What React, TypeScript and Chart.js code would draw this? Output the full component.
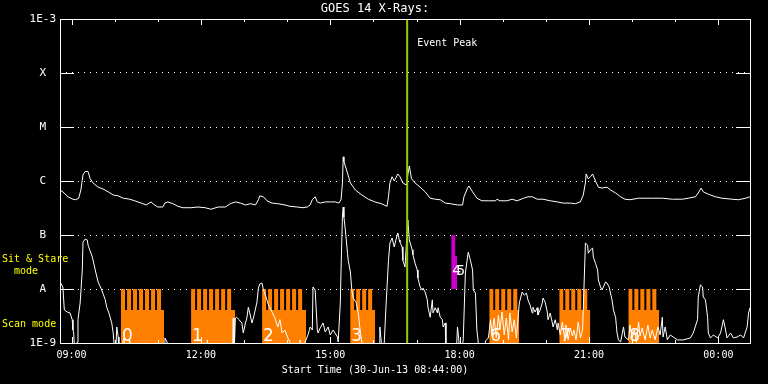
import React, { useEffect, useRef } from 'react';
import { Chart, registerables } from 'chart.js';

Chart.register(...registerables);

const MONO = '"DejaVu Sans Mono", monospace';

// x values: minutes after the start time 30-Jun-13 08:44:00
const xMin = 0;
const xMax = 960;
const xMajorTicks = [16, 196, 376, 556, 736, 916];
const xMajorLabels = ['09:00', '12:00', '15:00', '18:00', '21:00', '00:00'];
const xMinorTicks = [16, 76, 136, 196, 256, 316, 376, 436, 496, 556, 616, 676, 736, 796, 856, 916];

const yTickValues = [1e-9, 1e-8, 1e-7, 1e-6, 1e-5, 1e-4, 1e-3];
const yTickLabels = ['1E-9', 'A', 'B', 'C', 'M', 'X', '1E-3'];

// GOES 14, 1-8 A channel (W/m^2)
const longTimes = [
  0, 4, 11, 18, 22, 26, 29, 32, 35, 39,
  42, 46, 53, 60, 67, 74, 81, 88, 97, 104,
  113, 120, 124, 127, 129, 136, 143, 146, 150, 157,
  164, 171, 182, 192, 202, 210, 220, 230, 237, 244,
  251, 258, 265, 272, 276, 278, 283, 288, 295, 303,
  313, 320, 330, 338, 344, 348, 351, 355, 358, 362,
  369, 376, 383, 388, 391, 393, 394, 395, 400, 404,
  411, 420, 429, 438, 447, 455, 457, 459, 462, 465,
  470, 473, 477, 482, 484, 486, 489, 494, 501, 508,
  515, 522, 529, 536, 543, 553, 560, 562, 567, 569,
  574, 580, 587, 596, 606, 608, 612, 622, 629, 636,
  645, 651, 657, 664, 672, 682, 692, 700, 710, 717,
  724, 728, 731, 732, 735, 738, 741, 745, 749, 754,
  761, 766, 773, 780, 786, 793, 805, 824, 838, 852,
  866, 874, 884, 888, 892, 895, 902, 912, 921, 935,
  944, 954, 960,
];
const longFlux = [
  6.8e-7, 6.3e-7, 5.1e-7, 4.6e-7, 4.5e-7, 4.8e-7, 6.8e-7, 1.3e-6, 1.5e-6, 1.5e-6,
  1.1e-6, 9.2e-7, 7.7e-7, 7.1e-7, 6.3e-7, 5.5e-7, 5.3e-7, 4.8e-7, 4.6e-7, 4.3e-7,
  3.9e-7, 3.6e-7, 3.9e-7, 4.1e-7, 3.8e-7, 3.3e-7, 3.3e-7, 3.9e-7, 4.1e-7, 3.8e-7,
  3.4e-7, 3.2e-7, 3.2e-7, 3.3e-7, 3.2e-7, 3.0e-7, 3.3e-7, 3.3e-7, 3.8e-7, 4.1e-7,
  3.9e-7, 3.6e-7, 3.8e-7, 3.6e-7, 4.5e-7, 5.3e-7, 5.1e-7, 4.3e-7, 3.9e-7, 3.8e-7,
  3.6e-7, 3.4e-7, 3.3e-7, 3.2e-7, 3.3e-7, 3.6e-7, 4.5e-7, 5.1e-7, 4.1e-7, 3.9e-7,
  4.1e-7, 4.1e-7, 4.1e-7, 3.9e-7, 4.5e-7, 9.2e-7, 2.8e-6, 2.3e-6, 1.4e-6, 9.2e-7,
  6.8e-7, 5.5e-7, 4.6e-7, 4.1e-7, 3.8e-7, 3.4e-7, 5.1e-7, 9.2e-7, 1.2e-6, 1.0e-6,
  1.35e-6, 1.2e-6, 9.2e-7, 8.4e-7, 1.3e-6, 1.9e-6, 1.1e-6, 9.2e-7, 7.7e-7, 6.3e-7,
  4.8e-7, 4.6e-7, 4.5e-7, 3.9e-7, 3.8e-7, 3.6e-7, 3.6e-7, 5.1e-7, 7.4e-7, 8.1e-7,
  6.3e-7, 4.8e-7, 4.3e-7, 4.3e-7, 4.3e-7, 4.6e-7, 4.3e-7, 4.3e-7, 4.6e-7, 4.3e-7,
  4.8e-7, 5.1e-7, 5.1e-7, 4.6e-7, 4.6e-7, 4.3e-7, 4.1e-7, 3.9e-7, 3.9e-7, 3.8e-7,
  4.1e-7, 5.5e-7, 9.2e-7, 1.35e-6, 1.1e-6, 1.2e-6, 1.35e-6, 1.0e-6, 7.7e-7, 7.4e-7,
  7.7e-7, 6.8e-7, 6.0e-7, 5.1e-7, 4.6e-7, 4.5e-7, 4.8e-7, 4.8e-7, 4.8e-7, 4.6e-7,
  4.6e-7, 4.8e-7, 5.1e-7, 6.0e-7, 7.4e-7, 6.3e-7, 5.7e-7, 5.1e-7, 4.8e-7, 4.6e-7,
  4.5e-7, 4.8e-7, 5.1e-7,
];

// GOES 14, 0.5-4 A channel (W/m^2); 5e-10 marks readings below the 1E-9 floor
const shortTimes = [
  0, 1, 4, 6, 10, 14, 17, 18, 19, 21,
  24, 25, 28, 31, 32, 35, 38, 39, 45, 49,
  53, 58, 63, 65, 68, 72, 74, 77, 79, 81,
  82, 89, 92, 97, 100, 145, 146, 149, 152, 204,
  205, 206, 240, 241, 242, 244, 246, 249, 253, 255,
  258, 260, 262, 264, 267, 269, 271, 274, 276, 278,
  281, 283, 285, 290, 295, 299, 303, 306, 309, 313,
  317, 320, 324, 333, 334, 337, 341, 345, 348, 351,
  352, 355, 358, 359, 362, 366, 369, 373, 376, 380,
  386, 387, 390, 391, 393, 394, 395, 397, 400, 401,
  404, 406, 408, 412, 415, 418, 420, 423, 444, 445,
  447, 450, 454, 457, 459, 462, 465, 468, 470, 472,
  473, 476, 477, 480, 484, 486, 490, 491, 494, 497,
  498, 501, 504, 505, 508, 511, 512, 515, 518, 519,
  522, 525, 526, 529, 532, 533, 536, 537, 551, 553,
  554, 557, 561, 564, 567, 568, 571, 574, 575, 578,
  580, 582, 585, 591, 592, 596, 599, 601, 604, 607,
  610, 612, 615, 618, 621, 624, 626, 629, 632, 635,
  639, 643, 646, 649, 651, 654, 657, 658, 661, 664,
  665, 668, 671, 672, 675, 678, 679, 682, 685, 686,
  689, 692, 693, 696, 699, 702, 704, 707, 710, 713,
  715, 718, 721, 724, 727, 728, 731, 734, 735, 738,
  741, 742, 745, 748, 749, 752, 754, 756, 759, 761,
  764, 768, 770, 773, 775, 777, 780, 784, 786, 791,
  793, 796, 799, 802, 805, 807, 810, 814, 818, 821,
  824, 828, 832, 835, 838, 839, 842, 845, 849, 859,
  867, 877, 881, 887, 888, 891, 894, 895, 898, 901,
  902, 905, 909, 915, 919, 923, 926, 928, 933, 937,
  942, 947, 951, 956, 958, 960,
];
const shortFlux = [
  1.35e-8, 1.35e-8, 1.09e-8, 4.1e-9, 3.75e-9, 3.6e-9, 2.7e-9, 1.74e-9, 1.53e-9, 5e-10,
  1.04e-9, 2.7e-9, 5.5e-9, 2.25e-8, 7.4e-8, 8.4e-8, 8.1e-8, 6.5e-8, 3.9e-8, 2.25e-8,
  1.35e-8, 9.6e-9, 6.3e-9, 4.6e-9, 3.6e-9, 2.35e-9, 1.53e-9, 5e-10, 1.98e-9, 1.29e-9,
  5e-10, 1.24e-9, 5e-10, 1.14e-9, 5e-10, 5e-10, 1.24e-9, 1.04e-9, 5e-10, 5e-10,
  1.14e-9, 5e-10, 5e-10, 2.9e-9, 5e-10, 2.9e-9, 3.0e-9, 2.7e-9, 2.35e-9, 1.53e-9,
  2.35e-9, 2.9e-9, 4.6e-9, 3.6e-9, 2.35e-9, 2.9e-9, 3.75e-9, 5.7e-9, 1.04e-8, 1.24e-8,
  1.29e-8, 9.6e-9, 8.4e-9, 5.05e-9, 3.75e-9, 2.9e-9, 1.98e-9, 2.7e-9, 1.53e-9, 1.74e-9,
  1.24e-9, 1.04e-9, 5e-10, 5e-10, 1.14e-9, 5e-10, 1.04e-9, 1.41e-9, 1.98e-9, 1.74e-9,
  1.09e-8, 9.6e-9, 1.74e-9, 1.53e-9, 1.9e-9, 2.35e-9, 1.6e-9, 1.98e-9, 1.41e-9, 1.74e-9,
  1.29e-9, 1.04e-9, 5.5e-9, 2.25e-8, 2.35e-7, 3.3e-7, 2.15e-7, 1.24e-7, 4.6e-8, 3.4e-8,
  2.06e-8, 9.6e-9, 6.8e-9, 5.7e-9, 3.6e-9, 1.53e-9, 1.04e-9, 5e-10, 5e-10, 1.98e-9,
  1.04e-9, 5e-10, 6.3e-9, 3.4e-8, 7.1e-8, 8.8e-8, 6.0e-8, 8.8e-8, 1.09e-7, 8.1e-8,
  7.4e-8, 6.0e-8, 3.4e-8, 2.55e-8, 1.9e-7, 8.1e-8, 5.3e-8, 4.3e-8, 3.0e-8, 2.25e-8,
  1.6e-8, 1.09e-8, 9.6e-9, 1.04e-8, 8.8e-9, 6.3e-9, 4.6e-9, 3.0e-9, 6.3e-9, 3.6e-9,
  4.5e-9, 3.6e-9, 4.5e-9, 3.0e-9, 2.7e-9, 1.98e-9, 2.35e-9, 5e-10, 5e-10, 1.98e-9,
  1.53e-9, 5e-10, 1.14e-9, 1.98e-8, 3.9e-8, 4.8e-8, 3.4e-8, 2.25e-8, 9.6e-9, 8.4e-9,
  1.74e-9, 1.0e-9, 5e-10, 5e-10, 1.09e-9, 1.24e-9, 2.7e-9, 1.41e-9, 2.9e-9, 1.24e-9,
  3.3e-9, 1.74e-9, 3.75e-9, 1.41e-9, 2.9e-9, 1.14e-9, 3.6e-9, 1.6e-9, 2.7e-9, 1.24e-9,
  5.5e-9, 8.8e-9, 7.7e-9, 8.4e-9, 6.3e-9, 5.05e-9, 3.6e-9, 4.6e-9, 3.75e-9, 4.5e-9,
  3.3e-9, 4.1e-9, 5.5e-9, 6.8e-9, 5.7e-9, 3.75e-9, 2.7e-9, 3.6e-9, 2.35e-9, 1.98e-9,
  2.7e-9, 1.74e-9, 2.35e-9, 1.41e-9, 2.45e-9, 1.24e-9, 2.15e-9, 1.14e-9, 1.9e-9, 1.35e-9,
  1.74e-9, 1.14e-9, 2.45e-9, 1.24e-9, 1.74e-9, 4.1e-9, 7.1e-8, 6.5e-8, 4.6e-8, 5.3e-8,
  5.7e-8, 3.9e-8, 3.0e-8, 2.25e-8, 1.47e-8, 1.09e-8, 9.6e-9, 1.09e-8, 1.35e-8, 1.29e-8,
  1.09e-8, 6.3e-9, 4.1e-9, 3.0e-9, 1.53e-9, 1.14e-9, 1.04e-9, 1.98e-9, 1.29e-9, 1.14e-9,
  2.15e-9, 1.24e-9, 1.74e-9, 1.04e-9, 2.45e-9, 1.35e-9, 1.9e-9, 1.14e-9, 2.15e-9, 1.24e-9,
  1.74e-9, 1.14e-9, 1.98e-9, 1.41e-9, 3.0e-9, 1.29e-9, 1.98e-9, 1.14e-9, 1.41e-9, 1.14e-9,
  1.14e-9, 1.24e-9, 1.53e-9, 2.7e-9, 7.1e-9, 1.19e-8, 1.09e-8, 7.1e-9, 6.3e-9, 3.0e-9,
  1.53e-9, 1.24e-9, 1.41e-9, 1.24e-9, 1.53e-9, 2.7e-9, 1.74e-9, 1.24e-9, 1.53e-9, 1.24e-9,
  1.29e-9, 1.41e-9, 1.24e-9, 1.98e-9, 3.6e-9, 4.5e-9,
];

const eventPeakMinute = 483;

// Scan-mode observations: raster start minutes per observation
const scanLabels = ['0', '1', '2', '3', '6', '7', '8'];
const scanRasterStarts = [
  [84.9, 93.3, 101.6, 110.0, 118.3, 126.7, 135.0],
  [182.4, 190.7, 199.1, 207.4, 215.8, 224.2, 232.5],
  [281.2, 289.5, 297.9, 306.2, 314.6, 322.9, 331.3],
  [403.7, 412.0, 420.4, 428.7],
  [597.2, 605.5, 613.9, 622.2, 630.6],
  [694.6, 703.0, 711.3, 719.7, 728.0],
  [790.7, 799.1, 807.4, 815.8, 824.1],
];
const scanEnds = [144.8, 243.6, 342.4, 438.5, 638.9, 737.8, 833.8];
const rasterDwell = 5.6;
const scanHigh = 1e-8;
const scanLow = 4.1e-9;

// Sit & stare observations
const sitLabels = ['4', '5'];
const sitTimes = [544.3, 549.8, 552.6];
const sitFlux = [1e-7, 4.1e-8, 4.1e-8];
const sitBase = 1e-8;

function clockLabel(v: number): string {
  const i = xMajorTicks.indexOf(v);
  return i >= 0 ? xMajorLabels[i] : '';
}

function yLabel(v: number): string {
  const i = yTickValues.findIndex((t) => Math.abs(t - v) / t < 1e-6);
  return i >= 0 ? yTickLabels[i] : '';
}

const decorPlugin = {
  id: 'decor',
  beforeDraw(chart: any) {
    const { ctx } = chart;
    ctx.save();
    ctx.fillStyle = '#000';
    ctx.fillRect(0, 0, chart.width, chart.height);
    ctx.restore();
  },
  afterDatasetsDraw(chart: any) {
    const { ctx, chartArea } = chart;
    const { left, right, top, bottom } = chartArea;
    const xs = chart.scales.x;
    const ys = chart.scales.y;
    ctx.save();

    // observation numbers
    ctx.fillStyle = '#fff';
    ctx.textAlign = 'left';
    ctx.textBaseline = 'alphabetic';
    ctx.font = '17px "DejaVu Sans"';
    scanRasterStarts.forEach((starts, i) => {
      ctx.fillText(scanLabels[i], xs.getPixelForValue(starts[0]) + 1, bottom - 2);
    });
    ctx.font = '14px "DejaVu Sans"';
    ctx.textBaseline = 'middle';
    sitLabels.forEach((lab, i) => {
      ctx.fillText(lab, xs.getPixelForValue(sitTimes[0]) + 1 + i * 4, ys.getPixelForValue(2.1e-8));
    });

    // frame
    ctx.strokeStyle = '#fff';
    ctx.lineWidth = 1;
    ctx.strokeRect(left + 0.5, top + 0.5, right - left, bottom - top);

    const seg = (x1: number, y1: number, x2: number, y2: number) => {
      ctx.beginPath();
      ctx.moveTo(x1, y1);
      ctx.lineTo(x2, y2);
      ctx.stroke();
    };
    yTickValues.forEach((v) => {
      const py = Math.round(ys.getPixelForValue(v)) + 0.5;
      seg(left, py, left + 14, py);
      seg(right - 14, py, right + 1, py);
    });
    xMinorTicks.forEach((t) => {
      const px = Math.round(xs.getPixelForValue(t)) + 0.5;
      const len = xMajorTicks.includes(t) ? 6 : 3;
      seg(px, top, px, top + len);
      seg(px, bottom, px, bottom - len);
    });

    // annotations
    ctx.font = `10px ${MONO}`;
    ctx.textBaseline = 'middle';
    ctx.fillStyle = '#fff';
    ctx.fillText('Event Peak', xs.getPixelForValue(eventPeakMinute) + 10, top + 24);
    ctx.fillStyle = '#ffff00';
    ctx.fillText('Sit & Stare', 2, 259);
    ctx.fillText('  mode', 2, 271);
    ctx.fillText('Scan mode', 2, 324);
    ctx.restore();
  },
};

export default function App() {
  const canvasRef = useRef<HTMLCanvasElement | null>(null);

  useEffect(() => {
    document.body.style.margin = '0';
    document.body.style.background = '#000';
    const canvas = canvasRef.current;
    if (!canvas) return;

    const longData = longTimes.map((t, i) => ({ x: t, y: longFlux[i] }));
    const shortData = shortTimes.map((t, i) => ({ x: t, y: shortFlux[i] }));
    const scanData: { x: number; y: number | null }[] = [];
    scanRasterStarts.forEach((starts, b) => {
      starts.forEach((t) => {
        scanData.push({ x: t, y: scanHigh });
        scanData.push({ x: t + rasterDwell, y: scanLow });
      });
      scanData.push({ x: scanEnds[b], y: scanLow });
      scanData.push({ x: scanEnds[b], y: null });
    });
    const sitData = sitTimes.map((t, i) => ({ x: t, y: sitFlux[i] }));

    const chart = new Chart(canvas, {
      type: 'line',
      data: {
        datasets: [
          {
            data: [
              { x: eventPeakMinute, y: 1e-9 },
              { x: eventPeakMinute, y: 1e-3 },
            ],
            borderColor: '#99cc00',
            borderWidth: 2,
            pointRadius: 0,
          },
          {
            data: longData,
            borderColor: '#ffffff',
            borderWidth: 1,
            pointRadius: 0,
            tension: 0,
          },
          {
            data: shortData,
            borderColor: '#ffffff',
            borderWidth: 1,
            pointRadius: 0,
            tension: 0,
          },
          {
            data: scanData as any,
            stepped: true,
            fill: 'start',
            backgroundColor: '#ff8000',
            borderColor: 'rgba(0,0,0,0)',
            borderWidth: 1,
            pointRadius: 0,
          },
          {
            data: sitData,
            stepped: true,
            fill: { value: sitBase },
            backgroundColor: '#cc00cc',
            borderColor: 'rgba(0,0,0,0)',
            borderWidth: 1,
            pointRadius: 0,
          },
        ],
      },
      options: {
        animation: false,
        responsive: false,
        devicePixelRatio: 1,
        events: [],
        layout: { padding: { left: 0, right: 18, top: 0, bottom: 0 } },
        plugins: {
          legend: { display: false },
          tooltip: { enabled: false },
          title: {
            display: true,
            text: 'GOES 14 X-Rays:',
            color: '#ffffff',
            font: { family: MONO, size: 12, weight: 'normal', lineHeight: '14px' },
            padding: { top: 2, bottom: 3 },
          },
          subtitle: {
            display: true,
            position: 'bottom',
            text: 'Start Time (30-Jun-13 08:44:00)',
            color: '#ffffff',
            font: { family: MONO, size: 10, weight: 'normal', lineHeight: '12px' },
            padding: { top: 0, bottom: 8 },
          },
        },
        scales: {
          x: {
            type: 'linear',
            min: xMin,
            max: xMax,
            grid: { display: false, drawTicks: false },
            border: { display: false },
            ticks: {
              color: '#ffffff',
              padding: 6,
              maxRotation: 0,
              autoSkip: false,
              font: { family: MONO, size: 10 },
              callback: (v: any) => clockLabel(Number(v)),
            },
            afterBuildTicks: (s: any) => {
              s.ticks = xMajorTicks.map((v) => ({ value: v }));
            },
            afterFit: (s: any) => {
              s.height = 21;
            },
          },
          y: {
            type: 'logarithmic',
            min: 1e-9,
            max: 1e-3,
            grid: {
              drawTicks: false,
              lineWidth: 1,
              color: (c: any) => {
                const v = c.tick ? c.tick.value : 0;
                return v > 1.5e-9 && v < 0.9e-3 ? '#ffffff' : 'rgba(0,0,0,0)';
              },
            },
            border: { display: false, dash: [1, 5] },
            ticks: {
              color: '#ffffff',
              crossAlign: 'center',
              padding: 4,
              autoSkip: false,
              font: { family: MONO, size: 11 },
              callback: (v: any) => yLabel(Number(v)),
            },
            afterBuildTicks: (s: any) => {
              s.ticks = yTickValues.map((v) => ({ value: v }));
            },
            afterFit: (s: any) => {
              s.width = 60;
            },
          },
        },
      },
      plugins: [decorPlugin],
    } as any);

    return () => {
      chart.destroy();
    };
  }, []);

  return (
    <div style={{ width: 768, height: 384, background: '#000' }}>
      <canvas ref={canvasRef} width={768} height={384} style={{ display: 'block', width: 768, height: 384 }} />
    </div>
  );
}
